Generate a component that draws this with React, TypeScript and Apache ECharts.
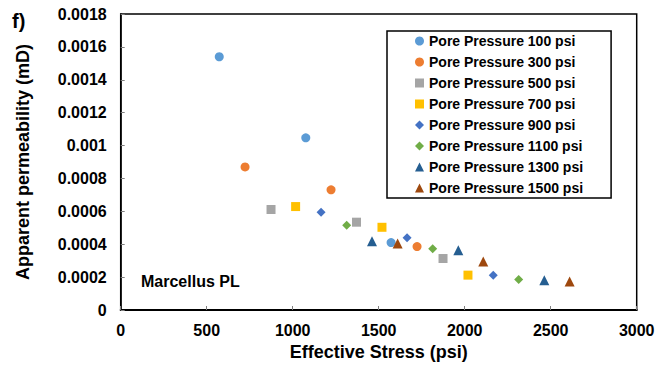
import React, { useEffect, useRef } from "react";
import * as echarts from "echarts";

// Effective stress (psi) and apparent permeability (mD) for each pore pressure
const stress100 = [573, 1076, 1572];
const perm100 = [0.00154, 0.001047, 0.00041];
const stress300 = [723, 1223, 1723];
const perm300 = [0.00087, 0.000731, 0.000386];
const stress500 = [874, 1371, 1874];
const perm500 = [0.000611, 0.000534, 0.000313];
const stress700 = [1017, 1519, 2019];
const perm700 = [0.000629, 0.000503, 0.000212];
const stress900 = [1165, 1665, 2166];
const perm900 = [0.000595, 0.000439, 0.000212];
const stress1100 = [1314, 1814, 2314];
const perm1100 = [0.000516, 0.000372, 0.000185];
const stress1300 = [1461, 1963, 2463];
const perm1300 = [0.000418, 0.000364, 0.000181];
const stress1500 = [1610, 2108, 2610];
const perm1500 = [0.000404, 0.000295, 0.000173];

const seriesNames = [
  "Pore Pressure 100 psi",
  "Pore Pressure 300 psi",
  "Pore Pressure 500 psi",
  "Pore Pressure 700 psi",
  "Pore Pressure 900 psi",
  "Pore Pressure 1100 psi",
  "Pore Pressure 1300 psi",
  "Pore Pressure 1500 psi",
];
const seriesStress = [stress100, stress300, stress500, stress700, stress900, stress1100, stress1300, stress1500];
const seriesPerm = [perm100, perm300, perm500, perm700, perm900, perm1100, perm1300, perm1500];
const seriesColors = ["#5B9BD5", "#ED7D31", "#A5A5A5", "#FFC000", "#4472C4", "#70AD47", "#255E91", "#9E480E"];
const seriesSymbols = ["circle", "circle", "rect", "rect", "diamond", "diamond", "triangle", "triangle"];
const seriesSymbolSizes = [9, 9, 9, 9, 9, 9, 10, 10];

const xTickLabels = ["0", "500", "1000", "1500", "2000", "2500", "3000"];
const yTickLabels = ["0", "0.0002", "0.0004", "0.0006", "0.0008", "0.001", "0.0012", "0.0014", "0.0016", "0.0018"];

const FONT = "'Liberation Sans', Arial, sans-serif";

export default function App() {
  const ref = useRef<HTMLDivElement>(null);

  useEffect(() => {
    if (!ref.current) return;
    const chart = echarts.init(ref.current, null, { renderer: "svg" });

    const series = seriesNames.map((name, i) => ({
      name,
      type: "scatter",
      symbol: seriesSymbols[i],
      symbolSize: seriesSymbolSizes[i],
      itemStyle: { color: seriesColors[i], opacity: 1 },
      data: seriesStress[i].map((s, j) => [s, seriesPerm[i][j]]),
    }));

    chart.setOption({
      animation: false,
      backgroundColor: "#fff",
      textStyle: { fontFamily: FONT },
      grid: {
        left: 120.7,
        right: 33.3,
        top: 14,
        bottom: 56,
        show: true,
        borderColor: "#000",
        borderWidth: 1.5,
      },
      xAxis: {
        type: "value",
        min: 0,
        max: 3000,
        interval: 500,
        name: "Effective Stress (psi)",
        nameLocation: "middle",
        nameGap: 33,
        nameTextStyle: { fontFamily: FONT, fontSize: 18, fontWeight: "bold", color: "#000" },
        axisLine: { show: true, lineStyle: { color: "#000", width: 2 } },
        axisTick: { show: true, inside: true, length: 4, lineStyle: { color: "#7f7f7f" } },
        splitLine: { show: false },
        axisLabel: {
          margin: 12,
          fontFamily: FONT,
          fontSize: 16,
          fontWeight: "bold",
          color: "#000",
          formatter: (_v: number, idx: number) => xTickLabels[idx] ?? "",
        },
      },
      yAxis: {
        type: "value",
        min: 0,
        max: 0.0018,
        interval: 0.0002,
        name: "Apparent permeability (mD)",
        nameLocation: "middle",
        nameGap: 89,
        nameTextStyle: { fontFamily: FONT, fontSize: 18, fontWeight: "bold", color: "#000" },
        axisLine: { show: true, lineStyle: { color: "#000", width: 1.5 } },
        axisTick: { show: true, inside: true, length: 4, lineStyle: { color: "#7f7f7f" } },
        splitLine: { show: false },
        axisLabel: {
          margin: 14,
          fontFamily: FONT,
          fontSize: 16,
          fontWeight: "bold",
          color: "#000",
          formatter: (_v: number, idx: number) => yTickLabels[idx] ?? "",
        },
      },
      legend: {
        orient: "vertical",
        left: 387,
        top: 31,
        backgroundColor: "#fff",
        borderColor: "#000",
        borderWidth: 1.5,
        padding: [3, 28, 3, 28],
        itemGap: 7,
        itemWidth: 9,
        itemHeight: 9,
        data: seriesNames,
        textStyle: { fontFamily: FONT, fontSize: 14, fontWeight: "bold", color: "#000", lineHeight: 14 },
      },
      graphic: [
        {
          type: "text",
          left: 12,
          top: 11,
          style: { text: "f)", font: `bold 20px ${FONT}`, fill: "#000" },
        },
        {
          type: "text",
          left: 141,
          top: 273,
          style: { text: "Marcellus PL", font: `bold 16px ${FONT}`, fill: "#000" },
        },
      ],
      series,
    });

    return () => chart.dispose();
  }, []);

  return (
    <div
      ref={ref}
      style={{ position: "fixed", left: 0, top: 0, width: 670, height: 366, background: "#fff" }}
    />
  );
}
